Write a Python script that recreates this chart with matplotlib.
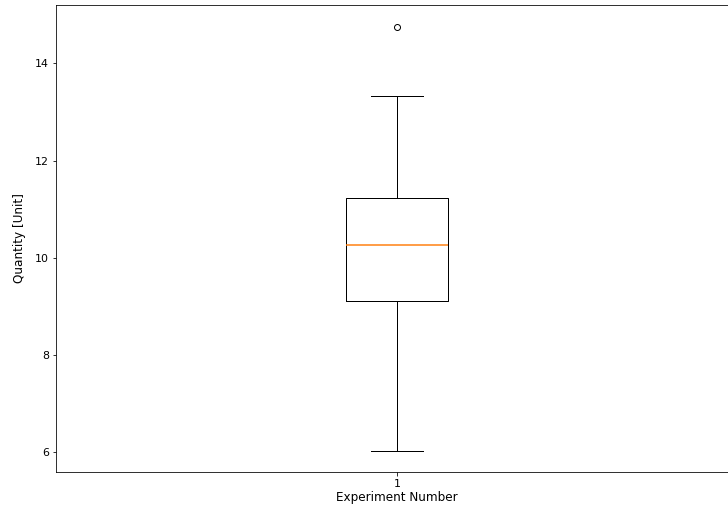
import matplotlib
matplotlib.use("Agg")
import matplotlib.pyplot as plt

# Summary statistics of the single experiment
experiments = ["1"]
lower_whisker = [6.04]
q1 = [9.12]
median = [10.26]
q3 = [11.23]
upper_whisker = [13.34]
outliers = [[14.76]]

stats = []
for i, name in enumerate(experiments):
    stats.append({
        "label": name,
        "whislo": lower_whisker[i],
        "q1": q1[i],
        "med": median[i],
        "q3": q3[i],
        "whishi": upper_whisker[i],
        "fliers": outliers[i],
    })

dpi = 72
fig = plt.figure(figsize=(728 / dpi, 513 / dpi), dpi=dpi)
ax = fig.add_axes([56 / 728, 41.3 / 513, 682 / 728, 466.4 / 513])
ax.bxp(stats, widths=0.15,
       medianprops={"color": "#ff7f0e", "linewidth": 1.5})
ax.tick_params(labelsize=11)
ax.set_xlabel("Experiment Number", fontsize=12, labelpad=2)
ax.set_ylabel("Quantity [Unit]", fontsize=12, labelpad=9)

fig.savefig("out.png", dpi=dpi)
